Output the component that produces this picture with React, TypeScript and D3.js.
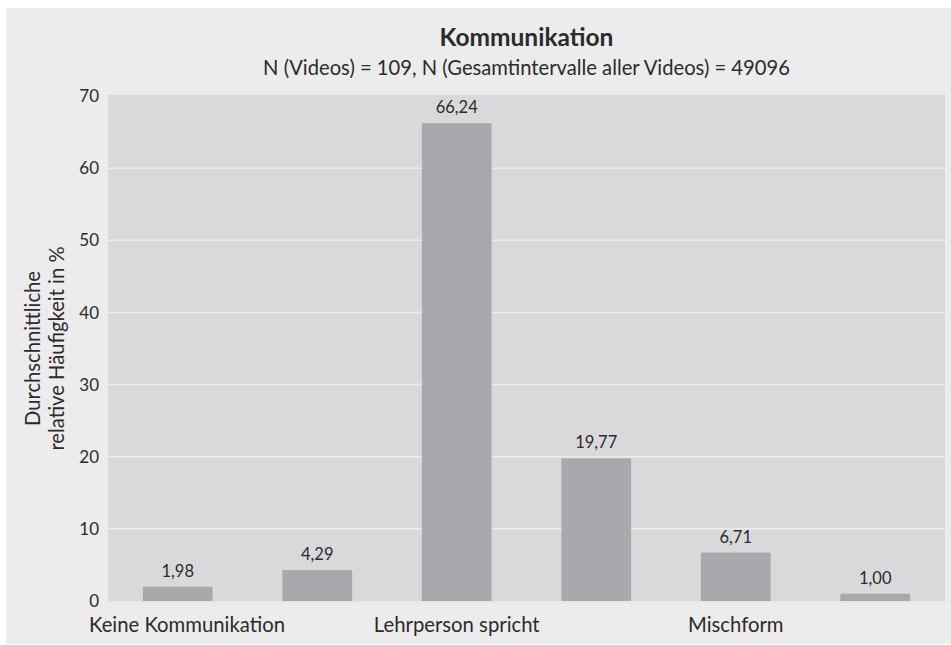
import React, { useEffect, useRef } from "react";
import * as d3 from "d3";

const categories = ["k1", "k2", "k3", "k4", "k5", "k6"];
const categoryLabels = ["Keine Kommunikation", "", "Lehrperson spricht", "", "Mischform", ""];
const values = [1.98, 4.29, 66.24, 19.77, 6.71, 1.0];
const yTicks = [0, 10, 20, 30, 40, 50, 60, 70];

const title = "Kommunikation";
const subtitle = "N (Videos) = 109, N (Gesamtintervalle aller Videos) = 49096";
const yTitle = ["Durchschnittliche", "relative Häufigkeit in %"];

const App = () => {
  const svgRef = useRef<SVGSVGElement>(null);

  useEffect(() => {
    const svg = d3.select(svgRef.current);
    svg.selectAll("*").remove();

    const width = 951;
    const height = 645;
    const margin = { top: 96, right: 6, bottom: 44, left: 108 };
    const font = "Lato, 'Open Sans', sans-serif";
    const textColor = "#2b2b2b";

    // outer panel
    svg
      .append("rect")
      .attr("x", 6)
      .attr("y", 8)
      .attr("width", width - 6)
      .attr("height", height - 9)
      .attr("fill", "#ececec");

    const x = d3
      .scaleBand()
      .domain(categories)
      .range([margin.left, width - margin.right])
      .paddingInner(0.5)
      .paddingOuter(0.25);

    const y = d3
      .scaleLinear()
      .domain([0, 70])
      .range([height - margin.bottom, margin.top]);

    // plot area
    svg
      .append("rect")
      .attr("x", margin.left)
      .attr("y", y(70) - 1)
      .attr("width", width - margin.right - margin.left)
      .attr("height", y(0) - y(70) + 1)
      .attr("fill", "#d9d9db");

    // grid lines
    svg
      .append("g")
      .selectAll("line")
      .data(yTicks.filter((d) => d > 0 && d < 70))
      .join("line")
      .attr("x1", margin.left)
      .attr("x2", width - margin.right)
      .attr("y1", (d) => y(d))
      .attr("y2", (d) => y(d))
      .attr("stroke", "#ececec")
      .attr("stroke-width", 1.5);

    // bars
    svg
      .append("g")
      .selectAll("rect")
      .data(values)
      .join("rect")
      .attr("x", (d, i) => x(categories[i])!)
      .attr("y", (d) => y(d))
      .attr("width", x.bandwidth())
      .attr("height", (d) => y(0) - y(d))
      .attr("fill", "#a8a9ac");

    // zero line
    svg
      .append("line")
      .attr("x1", margin.left)
      .attr("x2", width - margin.right)
      .attr("y1", y(0) + 1)
      .attr("y2", y(0) + 1)
      .attr("stroke", "#e6e6e6")
      .attr("stroke-width", 2);

    // value labels
    svg
      .append("g")
      .selectAll("text")
      .data(values)
      .join("text")
      .attr("x", (d, i) => x(categories[i])! + x.bandwidth() / 2)
      .attr("y", (d) => y(d) - 10)
      .attr("text-anchor", "middle")
      .style("font-family", font)
      .style("font-size", "16.5px")
      .attr("fill", textColor)
      .text((d) => d.toFixed(2).replace(".", ","));

    // y axis tick labels
    svg
      .append("g")
      .selectAll("text")
      .data(yTicks)
      .join("text")
      .attr("x", margin.left - 9)
      .attr("y", (d) => y(d))
      .attr("dy", "0.36em")
      .attr("text-anchor", "end")
      .style("font-family", font)
      .style("font-size", "17px")
      .attr("fill", textColor)
      .text((d) => d);

    // category labels
    const catText = svg
      .append("g")
      .selectAll("text")
      .data(categoryLabels)
      .join("text")
      .attr("x", (d, i) => x(categories[i])! + x.bandwidth() / 2)
      .attr("y", height - 13)
      .attr("text-anchor", "middle")
      .style("font-family", font)
      .style("font-size", "20.3px")
      .attr("fill", textColor)
      .text((d) => d);

    // keep the first label inside the panel
    catText.each(function () {
      const el = this as SVGTextElement;
      const w = el.getComputedTextLength();
      const cx = +el.getAttribute("x")!;
      const minLeft = margin.left - 19;
      if (cx - w / 2 < minLeft) el.setAttribute("x", String(minLeft + w / 2));
    });

    // y axis title
    const yt = svg
      .append("text")
      .attr("transform", `translate(40, ${(y(0) + y(70)) / 2}) rotate(-90)`)
      .attr("text-anchor", "middle")
      .style("font-family", font)
      .style("font-size", "20.2px")
      .attr("fill", textColor);
    yTitle.forEach((line, i) => {
      yt.append("tspan")
        .attr("x", 0)
        .attr("dy", i === 0 ? 0 : 24)
        .text(line);
    });

    // titles
    const cx = (margin.left + width - margin.right) / 2;
    svg
      .append("text")
      .attr("x", cx)
      .attr("y", 46)
      .attr("text-anchor", "middle")
      .style("font-family", font)
      .style("font-size", "24.5px")
      .style("font-weight", "bold")
      .attr("fill", textColor)
      .text(title);

    svg
      .append("text")
      .attr("x", cx)
      .attr("y", 75)
      .attr("text-anchor", "middle")
      .style("font-family", font)
      .style("font-size", "20.2px")
      .attr("fill", textColor)
      .text(subtitle);
  }, []);

  return (
    <div style={{ position: "absolute", left: 0, top: 0 }}>
      <svg ref={svgRef} width={951} height={645} style={{ display: "block" }}></svg>
    </div>
  );
};

export default App;
